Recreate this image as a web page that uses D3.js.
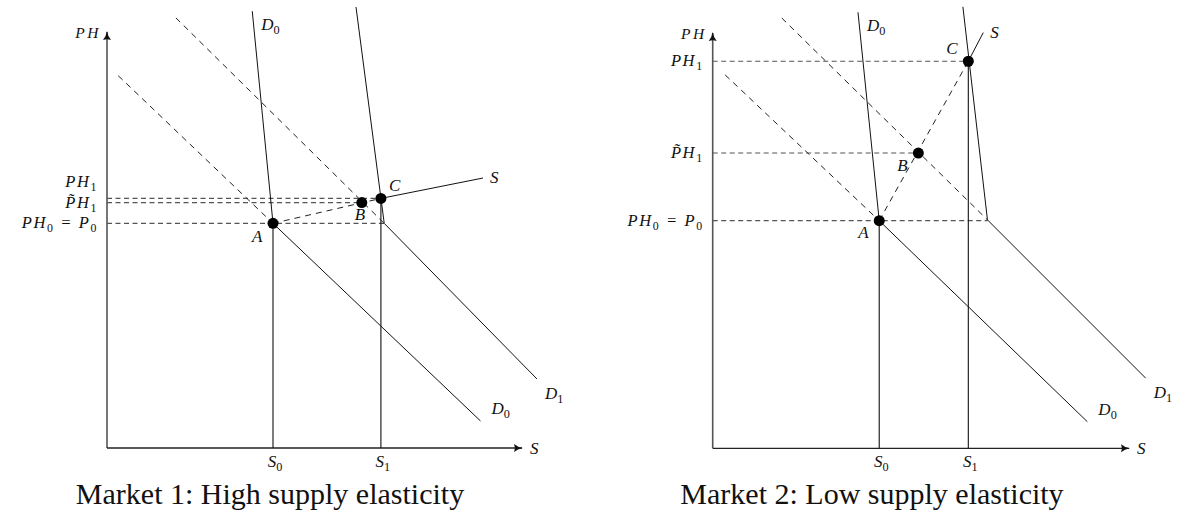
<!DOCTYPE html>
<html>
<head>
<meta charset="utf-8">
<script src="https://cdn.jsdelivr.net/npm/d3@7"></script>
<style>
  body { margin: 0; background: #fff; }
  text { font-family: "Liberation Serif", "DejaVu Serif", serif; fill: #111; }
  .math { font-style: italic; }
</style>
</head>
<body>
<svg id="chart" width="1177" height="525"></svg>
<script>
// ---- data (model units, 0..10 on both axes) ----
var titles = ["Market 1: High supply elasticity", "Market 2: Low supply elasticity"];
var axisNames = ["PH", "S"];
var quantityLabels = ["S_0", "S_1"];
var priceLabels = ["PH_0 = P_0", "P\u0303H_1", "PH_1"];
var pointNames = ["A", "B", "C"];

// market 1 (high elasticity)
var m1Points = [[4.0, 5.4], [6.14, 5.9], [6.6, 6.0]];           // A, B, C
var m1Kink = [6.68, 5.4];                                         // where D1 bends
var m1D0 = [[3.5, 10.5], [4.0, 5.4], [9.0, 0.65]];
var m1D1 = [[6.0, 10.6], [6.68, 5.4], [10.36, 1.66]];
var m1D0dash = [[0.27, 8.95], [4.0, 5.4]];
var m1D1dash = [[1.66, 10.34], [6.68, 5.4]];
var m1Supply = [[6.6, 6.0], [9.06, 6.49]];

// market 2 (low elasticity)
var m2Points = [[4.0, 5.48], [4.94, 7.11], [6.14, 9.32]];
var m2Kink = [6.6, 5.5];
var m2D0 = [[3.49, 10.5], [4.0, 5.48], [9.0, 0.64]];
var m2D1 = [[6.01, 10.63], [6.6, 5.5], [10.4, 1.69]];
var m2D0dash = [[0.3, 8.99], [4.0, 5.48]];
var m2D1dash = [[1.66, 10.36], [6.6, 5.5]];
var m2Supply = [[6.14, 9.32], [6.5, 10.01]];

var svg = d3.select("#chart");

var defs = svg.append("defs");
defs.append("marker")
  .attr("id", "arrow")
  .attr("viewBox", "0 -5 10 10")
  .attr("refX", 9).attr("refY", 0)
  .attr("markerWidth", 9).attr("markerHeight", 9)
  .attr("markerUnits", "userSpaceOnUse")
  .attr("orient", "auto")
  .append("path")
  .attr("d", "M0,-4.5 Q4,-1 10,0 Q4,1 0,4.5 Q2,0 0,-4.5Z")
  .attr("fill", "#111");

// writes "PH_0 = P_0" style strings with real subscripts
function mathText(sel, str) {
  var parts = str.split(/(_\d)/);
  var back = 0;
  parts.forEach(function (p) {
    if (!p) return;
    if (p[0] == "_") {
      sel.append("tspan").attr("font-style", "normal").attr("font-size", "0.72em")
        .attr("dy", 4 - back).text(p.slice(1));
      back = 4;
    } else {
      sel.append("tspan").attr("dy", -back || null).text(p);
      back = 0;
    }
  });
  return sel;
}

function market(i, frame, points, kink, d0, d1, d0dash, d1dash, supply, opts) {
  var x = d3.scaleLinear().domain([0, 10]).range(frame.x);
  var y = d3.scaleLinear().domain([0, 10]).range(frame.y);
  var line = d3.line().x(d => x(d[0])).y(d => y(d[1]));
  var g = svg.append("g");

  // axes
  g.append("line")
    .attr("x1", x(0)).attr("y1", y(0)).attr("x2", x(0)).attr("y2", y(10))
    .attr("stroke", "#555").attr("stroke-width", 1.6).attr("marker-end", "url(#arrow)");
  g.append("line")
    .attr("x1", x(0)).attr("y1", y(0)).attr("x2", x(10)).attr("y2", y(0))
    .attr("stroke", "#222").attr("stroke-width", 1.3).attr("marker-end", "url(#arrow)");

  var A = points[0], B = points[1], C = points[2];

  // horizontal price guides
  var guides = [[A[1], kink[0]], [B[1], B[0]], [C[1], C[0]]];
  g.selectAll(".guide").data(guides).enter().append("line")
    .attr("x1", x(0)).attr("x2", d => x(d[1]))
    .attr("y1", d => y(d[0])).attr("y2", d => y(d[0]))
    .attr("stroke", "#555").attr("stroke-width", 1.2).attr("stroke-dasharray", "5,3.5");

  // dashed demand extensions and dashed supply A->C
  [d0dash, d1dash, [A, C]].forEach(function (seg) {
    g.append("path").attr("d", line(seg)).attr("fill", "none")
      .attr("stroke", "#222").attr("stroke-width", 1).attr("stroke-dasharray", "6,5");
  });

  // solid curves
  [d0, d1, supply].forEach(function (seg) {
    g.append("path").attr("d", line(seg)).attr("fill", "none")
      .attr("stroke", "#111").attr("stroke-width", 1);
  });

  // quantity drops
  [A, C].forEach(function (p) {
    g.append("line").attr("x1", x(p[0])).attr("x2", x(p[0]))
      .attr("y1", y(p[1])).attr("y2", y(0))
      .attr("stroke", "#111").attr("stroke-width", 1.1);
  });

  // points
  g.selectAll(".pt").data(points).enter().append("circle")
    .attr("cx", d => x(d[0])).attr("cy", d => y(d[1])).attr("r", 5.5).attr("fill", "#000");

  points.forEach(function (p, k) {
    g.append("text").attr("class", "math").attr("font-size", 17)
      .attr("x", x(p[0]) + opts.ptOff[k][0]).attr("y", y(p[1]) + opts.ptOff[k][1])
      .text(pointNames[k]);
  });

  // price labels on y axis
  guides.forEach(function (d, k) {
    mathText(g.append("text").attr("class", "math").attr("font-size", 16.5).attr("letter-spacing", 1.6)
      .attr("text-anchor", "end").attr("x", x(0) - 9)
      .attr("y", y(d[0]) + 5 + opts.priceShift[k]), priceLabels[k]);
  });

  // quantity labels
  [A[0], C[0]].forEach(function (q, k) {
    mathText(g.append("text").attr("class", "math").attr("font-size", 17)
      .attr("text-anchor", "middle").attr("x", x(q) + 2).attr("y", y(0) + 19), quantityLabels[k]);
  });

  // axis names
  g.append("text").attr("class", "math").attr("font-size", 15.5).attr("letter-spacing", 2.5)
    .attr("text-anchor", "end").attr("x", x(0) - 6).attr("y", y(10) + 6).text(axisNames[0]);
  g.append("text").attr("class", "math").attr("font-size", 17)
    .attr("x", x(10) + 8).attr("y", y(0) + 6).text(axisNames[1]);

  // curve labels
  var curveLabels = [
    [d0[0], "D_0", 9, 19],
    [d0[2], "D_0", 11, -7],
    [d1[2], "D_1", 8, 20],
    [supply[1], "S", 7, 5]
  ];
  curveLabels.forEach(function (c) {
    mathText(g.append("text").attr("class", "math").attr("font-size", 17)
      .attr("x", x(c[0][0]) + c[2]).attr("y", y(c[0][1]) + c[3]), c[1]);
  });

  g.append("text").attr("font-size", 30).attr("text-anchor", "middle")
    .attr("x", opts.titleX).attr("y", 504).text(titles[i]);
}

market(0, {x: [107, 522], y: [448, 32]}, m1Points, m1Kink, m1D0, m1D1, m1D0dash, m1D1dash, m1Supply,
  {ptOff: [[-21, 19], [-7, 17], [8, -7]], priceShift: [0, 0, -16], titleX: 270});
market(1, {x: [712.7, 1129], y: [448.3, 33]}, m2Points, m2Kink, m2D0, m2D1, m2D0dash, m2D1dash, m2Supply,
  {ptOff: [[-21, 17], [-21, 18], [-22, -7]], priceShift: [0, 0, 0], titleX: 872});
</script>
</body>
</html>
